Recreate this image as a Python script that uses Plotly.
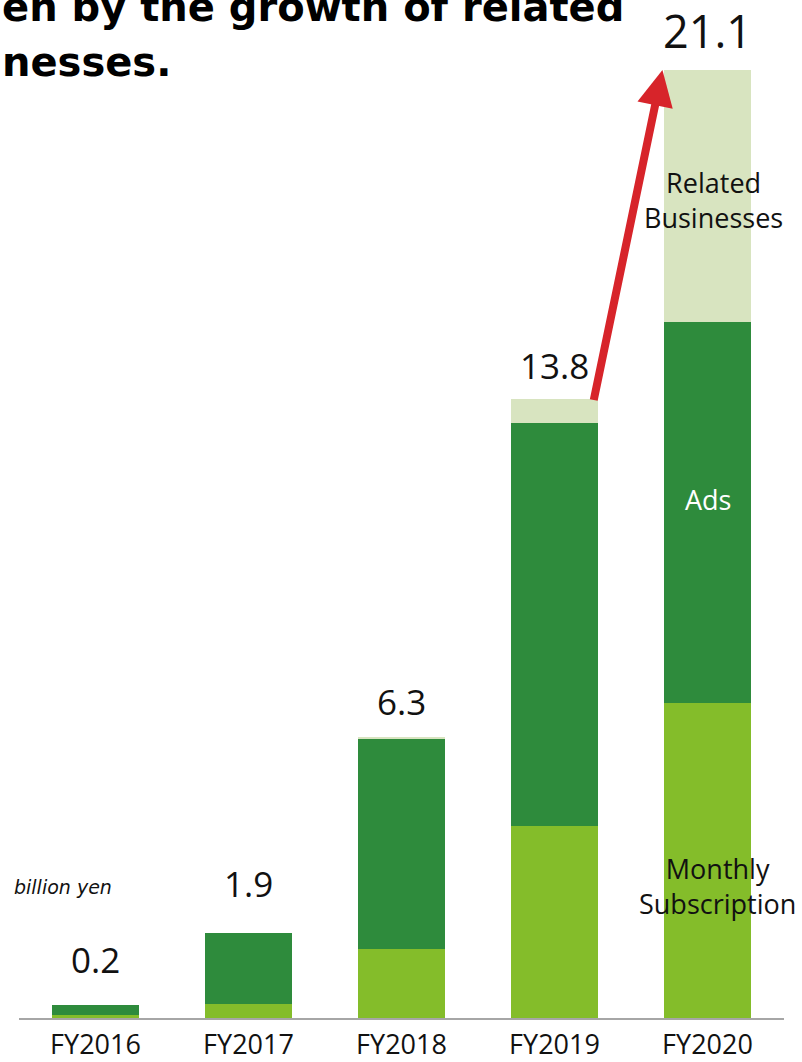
import plotly.graph_objects as go

# ---- data (billion yen) ----
categories = ["FY2016", "FY2017", "FY2018", "FY2019", "FY2020"]
monthly = [0.07, 0.31, 1.54, 4.27, 7.01]
ads = [0.22, 1.58, 4.67, 8.97, 8.48]
related = [0.0, 0.0, 0.05, 0.53, 5.61]
total_labels = ["0.2", "1.9", "6.3", "13.8", "21.1"]

# ---- styles ----
C_MONTHLY = "#84bd2a"
C_ADS = "#2e8b3c"
C_RELATED = "#d8e4c0"
C_ARROW = "#d7242a"
TXT = "#111111"
BARGAP = 0.431
label_shift = [20, 24, 10, 8, 7]
label_size = [35, 35, 35, 35, 45]

totals = [m + a + r for m, a, r in zip(monthly, ads, related)]

fig = go.Figure()
for name, vals, col in [("Monthly Subscription", monthly, C_MONTHLY),
                        ("Ads", ads, C_ADS),
                        ("Related Businesses", related, C_RELATED)]:
    fig.add_trace(go.Bar(x=categories, y=vals, name=name,
                         marker=dict(color=col, line=dict(width=0)),
                         hoverinfo="skip"))

ann = []
# total labels
for i, c in enumerate(categories):
    ann.append(dict(x=c, y=totals[i], xref="x", yref="y", text=total_labels[i],
                    showarrow=False, yanchor="bottom", yshift=label_shift[i],
                    font=dict(family="Open Sans", size=label_size[i], color=TXT)))

# segment labels in the last bar
last = len(categories) - 1
ann.append(dict(x=categories[last], y=monthly[last] + ads[last] + related[last] / 2,
                xref="x", yref="y", text="Related<br>Businesses", showarrow=False,
                xshift=6, yshift=-4,
                font=dict(family="Open Sans", size=27, color=TXT)))
ann.append(dict(x=categories[last], y=monthly[last] + ads[last] / 2,
                xref="x", yref="y", text="Ads", showarrow=False,
                xshift=0, yshift=13,
                font=dict(family="Open Sans", size=27, color="white")))
ann.append(dict(x=categories[last], y=monthly[last] / 2,
                xref="x", yref="y", text="Monthly<br>Subscription", showarrow=False,
                xshift=10, yshift=-25,
                font=dict(family="Open Sans", size=27, color=TXT)))

# unit label
ann.append(dict(x=-0.009, y=0.129, xref="paper", yref="paper", text="<i>billion yen</i>",
                showarrow=False, xanchor="left", yanchor="middle",
                font=dict(family="DejaVu Sans", size=19, color=TXT)))

# title fragments (cut off in the reference)
ann.append(dict(x=-0.0248, y=0.971, xref="paper", yref="paper",
                text="<b>en by the growth of related</b>", showarrow=False,
                xanchor="left", yanchor="bottom",
                font=dict(family="DejaVu Sans", size=40, color="#000000")))
ann.append(dict(x=-0.0248, y=0.917, xref="paper", yref="paper",
                text="<b>nesses.</b>", showarrow=False,
                xanchor="left", yanchor="bottom",
                font=dict(family="DejaVu Sans", size=40, color="#000000")))

# growth arrow from FY2019 top to FY2020 top
half = (1 - BARGAP) / 2
ann.append(dict(x=last - half - 0.01, y=totals[last], xref="x", yref="y",
                ax=(last - 1) + half - 0.03, ay=totals[last - 1] - 0.05,
                axref="x", ayref="y", text="", showarrow=True,
                arrowhead=2, arrowsize=0.9, arrowwidth=8, arrowcolor=C_ARROW,
                standoff=0, startstandoff=0))

fig.update_layout(
    barmode="stack",
    bargap=BARGAP,
    width=802, height=1062,
    margin=dict(l=19, r=18, t=3, b=44, autoexpand=False),
    paper_bgcolor="white", plot_bgcolor="white",
    showlegend=False,
    annotations=ann,
    xaxis=dict(range=[-0.5, len(categories) - 0.5], autorange=False,
               automargin=False,
               showline=True, linecolor="#a6a6a6", linewidth=2, ticks="",
               ticklabelstandoff=2,
               showgrid=False, zeroline=False,
               tickfont=dict(family="Open Sans", size=27, color=TXT)),
    yaxis=dict(range=[0, 22.59], autorange=False, visible=False,
               automargin=False, showgrid=False, zeroline=False),
)

fig.write_html("out.html")
